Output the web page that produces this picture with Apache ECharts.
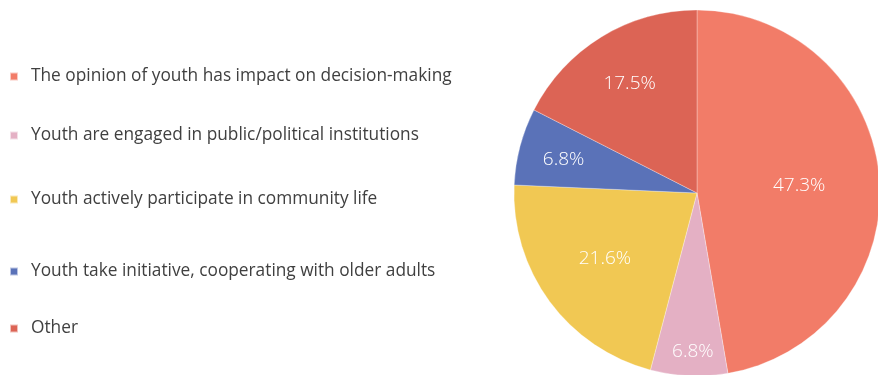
<!DOCTYPE html>
<html><head><meta charset="utf-8">
<script src="https://cdn.jsdelivr.net/npm/echarts@6/dist/echarts.min.js"></script>
<style>html,body{margin:0;padding:0;background:#fff}#c{width:878px;height:375px}</style>
</head><body><div id="c"></div>
<script>
const categories = [
  "The opinion of youth has impact on decision-making",
  "Youth are engaged in public/political institutions",
  "Youth actively participate in community life",
  "Youth take initiative, cooperating with older adults",
  "Other"
];
const values = [47.3, 6.8, 21.6, 6.8, 17.5];
const colors = ["#F27C68", "#E4B0C4", "#F1C853", "#5A72B8", "#DC6455"];
const legendTops = [63, 122, 186, 258, 315];
const labelShifts = [[8, 1], [0, 64], [-16, 10], [-42, -9], [-18, -29]];

const chart = echarts.init(document.getElementById('c'));
const legends = categories.map((name, i) => ({
  data: [name],
  left: 4,
  top: legendTops[i],
  orient: 'vertical',
  icon: 'rect',
  itemWidth: 8,
  itemHeight: 8,
  selectedMode: false,
  textStyle: { fontFamily: 'Open Sans', fontSize: 17.3, color: '#404040', padding: [0, 0, 0, 8] }
}));
chart.setOption({
  animation: false,
  color: colors,
  legend: legends,
  series: [{
    type: 'pie',
    center: [697, 193],
    radius: 183,
    startAngle: 90,
    clockwise: true,
    avoidLabelOverlap: false,
    itemStyle: { borderColor: 'rgba(255,255,255,0.6)', borderWidth: 0.5 },
    label: {
      show: true,
      position: 'inside',
      formatter: p => p.value.toFixed(1) + '%',
      color: '#fff',
      fontFamily: 'Open Sans',
      fontWeight: 300,
      fontSize: 19
    },
    labelLine: { show: false },
    emphasis: { disabled: true },
    data: categories.map((name, i) => ({ name, value: values[i], label: { offset: labelShifts[i] } }))
  }]
});
</script></body></html>
